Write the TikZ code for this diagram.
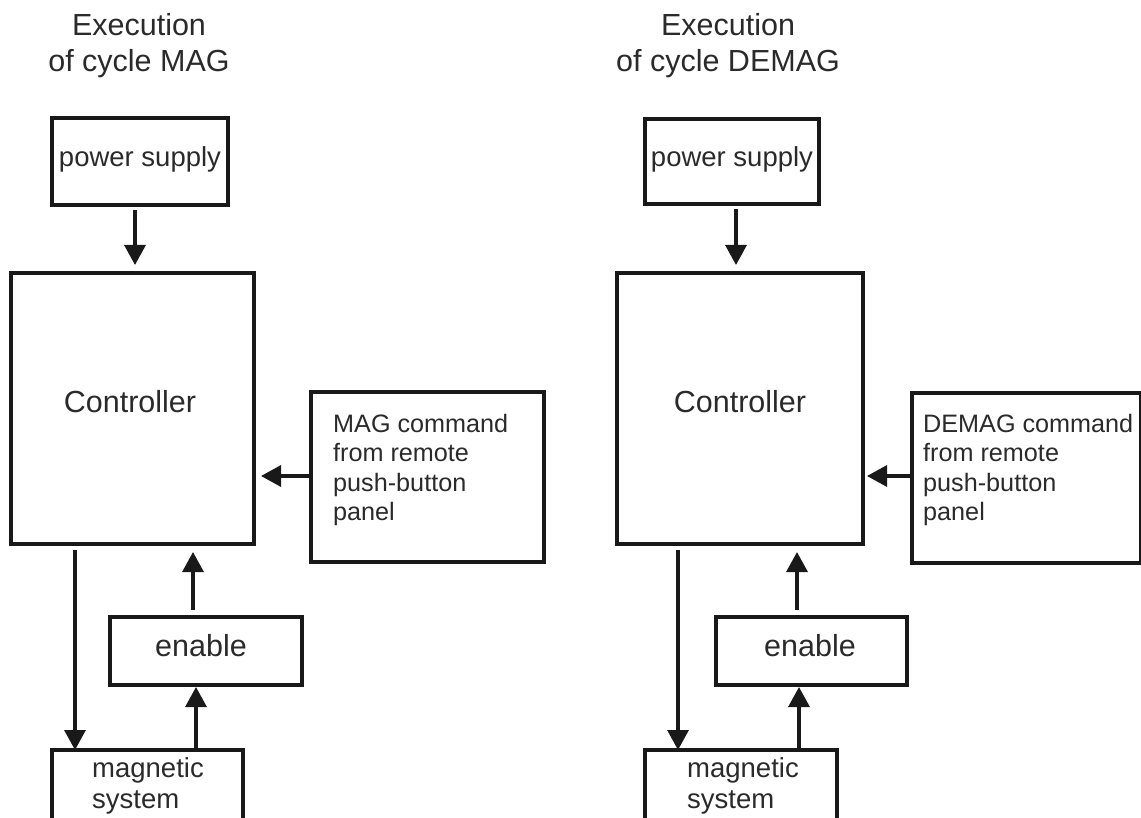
\documentclass[tikz,border=0pt]{standalone}
\usepackage{fontspec}
\setmainfont{Liberation Sans}
\usetikzlibrary{arrows.meta}
\definecolor{txtgray}{HTML}{2A2A2A}
\tikzset{
  box/.style={draw=black!90, line width=3.2pt, inner sep=0pt, outer sep=0pt},
  arr/.style={draw=black!90, line width=3.2pt, -{Triangle[length=20pt,width=21pt]}},
  ttl/.style={text=txtgray, align=center, font=\fontsize{30.5}{36}\selectfont, inner sep=0pt},
  big/.style={text=txtgray, font=\fontsize{30.5}{36}\selectfont, inner sep=0pt, anchor=base},
  mid/.style={text=txtgray, font=\fontsize{27.5}{31}\selectfont, inner sep=0pt},
  cmd/.style={text=txtgray, align=left, font=\fontsize{25.2}{29.5}\selectfont, inner sep=0pt, anchor=north west},
}
\begin{document}
\begin{tikzpicture}[x=1pt,y=1pt]
\useasboundingbox (0,0) rectangle (1141,-818);
\clip (0,0) rectangle (1141,-818);
% ---------------- left: MAG ----------------
\node[ttl, anchor=base] (tL1) at (139,-36) {Execution};
\node[ttl, anchor=base] (tL2) at (139,-72) {of cycle MAG};
\node[box, minimum width=176pt, minimum height=87pt] (psL) at (140,-161.5) {};
\node[mid, anchor=base] (psLt) at (140,-167) {power supply};
\node[box, minimum width=243pt, minimum height=271pt] (ctrlL) at (132.5,-408.5) {};
\node[big] (ctrlLt) at (130,-412) {Controller};
\node[box, minimum width=233pt, minimum height=170pt] (cmdL) at (427.5,-477) {};
\node[cmd] (cmdLt) at (333,-414) {MAG command\\from remote\\push-button\\panel};
\node[box, minimum width=192pt, minimum height=68pt] (enL) at (206,-651) {};
\node[big] (enLt) at (201,-656) {enable};
\node[box, minimum width=191pt, minimum height=120pt] (msL) at (147.5,-810) {};
\node[mid, anchor=base west, align=left] (msLt1) at (92,-777) {magnetic};
\node[mid, anchor=base west, align=left] (msLt2) at (92,-808) {system};
\draw[arr, shorten <=5pt, shorten >=8pt] ([xshift=-5pt]psL.south) -- ([xshift=-5pt]psL.south |- ctrlL.north);
\draw[arr, shorten >=7pt] (cmdL.west |- 0,-476) -- (ctrlL.east |- 0,-476);
\draw[arr, shorten <=6pt] (ctrlL.south -| 75,0) -- (msL.north -| 75,0);
\draw[arr, shorten <=7pt, shorten >=8pt] (enL.north -| 193,0) -- (ctrlL.south -| 193,0);
\draw[arr, shorten >=2pt] (msL.north -| 196,0) -- (enL.south -| 196,0);
% ---------------- right: DEMAG ----------------
\node[ttl, anchor=base] (tR1) at (728,-36) {Execution};
\node[ttl, anchor=base] (tR2) at (728,-72) {of cycle DEMAG};
\node[box, minimum width=174pt, minimum height=85pt] (psR) at (732,-161.5) {};
\node[mid, anchor=base] (psRt) at (732,-167) {power supply};
\node[box, minimum width=246pt, minimum height=271pt] (ctrlR) at (740,-408.5) {};
\node[big] (ctrlRt) at (740,-412) {Controller};
\node[box, minimum width=229pt, minimum height=170pt] (cmdR) at (1026.5,-478) {};
\node[cmd] (cmdRt) at (923,-414) {DEMAG command\\from remote\\push-button\\panel};
\node[box, minimum width=191pt, minimum height=68pt] (enR) at (811.5,-651) {};
\node[big] (enRt) at (810,-656) {enable};
\node[box, minimum width=192pt, minimum height=120pt] (msR) at (741,-810) {};
\node[mid, anchor=base west, align=left] (msRt1) at (687,-777) {magnetic};
\node[mid, anchor=base west, align=left] (msRt2) at (687,-808) {system};
\draw[arr, shorten <=5pt, shorten >=8pt] ([xshift=4pt]psR.south) -- ([xshift=4pt]psR.south |- ctrlR.north);
\draw[arr, shorten >=4pt] (cmdR.west |- 0,-476) -- (ctrlR.east |- 0,-476);
\draw[arr, shorten <=6pt] (ctrlR.south -| 678,0) -- (msR.north -| 678,0);
\draw[arr, shorten <=7pt, shorten >=8pt] (enR.north -| 797,0) -- (ctrlR.south -| 797,0);
\draw[arr, shorten >=2pt] (msR.north -| 799,0) -- (enR.south -| 799,0);
\end{tikzpicture}
\end{document}
